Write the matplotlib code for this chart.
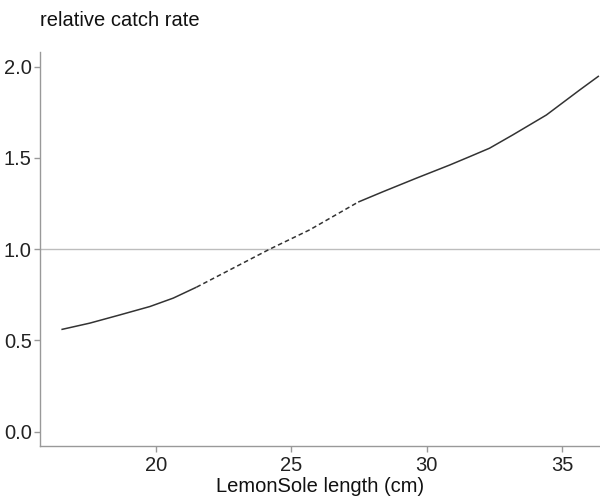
import matplotlib
matplotlib.use("Agg")
import matplotlib.pyplot as plt

plt.rcParams['font.family'] = ['Liberation Sans', 'DejaVu Sans']

# data
len_low = [16.51, 17.56, 18.67, 19.78, 20.64, 21.5]
rate_low = [0.560, 0.595, 0.640, 0.686, 0.732, 0.792]
len_mid = [21.5, 22.85, 24.2, 25.68, 27.47]
rate_mid = [0.792, 0.896, 1.0, 1.106, 1.258]
len_high = [27.47, 28.39, 29.62, 30.85, 31.59, 32.32, 33.18, 34.42, 35.65, 36.36]
rate_high = [1.258, 1.315, 1.389, 1.461, 1.507, 1.553, 1.626, 1.735, 1.872, 1.949]
x_ticks = [20, 25, 30, 35]
y_ticks = [0.0, 0.5, 1.0, 1.5, 2.0]
y_tick_labels = ["0.0", "0.5", "1.0", "1.5", "2.0"]

fig = plt.figure(figsize=(6.0, 5.01), dpi=100)
ax = fig.add_axes([40/600, 1-446/501, 1-40/600, (446-52)/501])

ax.axhline(1.0, color='#bdbdbd', lw=1.0, zorder=1)
line_col = '#333333'
ax.plot(len_low, rate_low, color=line_col, lw=1.1, solid_capstyle='butt', zorder=3)
ax.plot(len_mid, rate_mid, color=line_col, lw=1.1, ls=(0, (3, 2)), zorder=3)
ax.plot(len_high, rate_high, color=line_col, lw=1.1, solid_capstyle='butt', zorder=3)

ax.set_xlim(15.72, 36.4)
ax.set_ylim(-0.078, 2.08)

ax.set_xticks(x_ticks)
ax.set_yticks(y_ticks)
ax.set_yticklabels(y_tick_labels)

for s in ['top', 'right']:
    ax.spines[s].set_visible(False)
for s in ['left', 'bottom']:
    ax.spines[s].set_color('#999999')
    ax.spines[s].set_linewidth(1.0)

ax.tick_params(axis='both', colors='#999999', length=4, width=1.0,
               labelcolor='#222222', labelsize=14.5)
ax.tick_params(axis='x', pad=3)
ax.tick_params(axis='y', pad=2)

ax.set_xlabel('LemonSole length (cm)', fontsize=14.5, color='#111111', labelpad=2)
fig.text(40/600, 1-20/501, 'relative catch rate', fontsize=14.5, color='#111111',
         ha='left', va='center')

fig.savefig('out.png', dpi=100)
